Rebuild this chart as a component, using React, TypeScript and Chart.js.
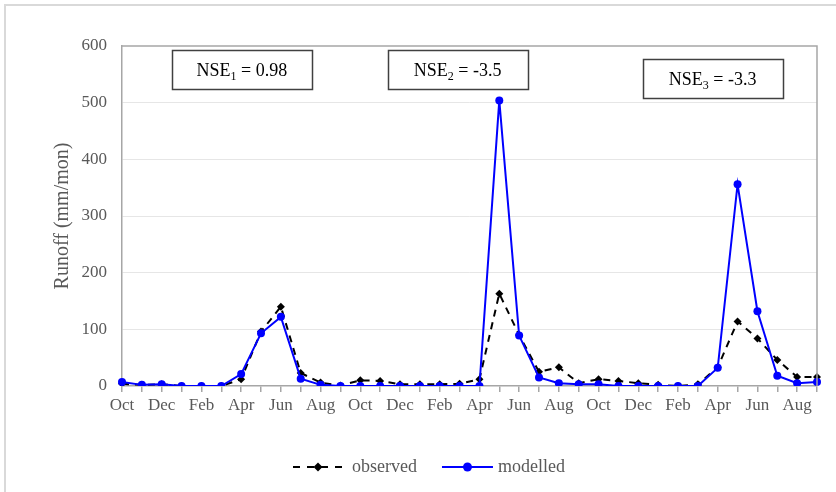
import React, { useEffect, useRef } from 'react';
import { Chart, registerables } from 'chart.js';

Chart.register(...registerables);

// ---- data ----
const categories = [
  'Oct', 'Nov', 'Dec', 'Jan', 'Feb', 'Mar', 'Apr', 'May', 'Jun', 'Jul', 'Aug', 'Sep',
  'Oct', 'Nov', 'Dec', 'Jan', 'Feb', 'Mar', 'Apr', 'May', 'Jun', 'Jul', 'Aug', 'Sep',
  'Oct', 'Nov', 'Dec', 'Jan', 'Feb', 'Mar', 'Apr', 'May', 'Jun', 'Jul', 'Aug', 'Sep',
];

const observed = [
  4, 2, 3, 0, 0, 0, 12, 96, 140, 23, 6, 1,
  10, 9, 3, 3, 3, 4, 12, 163, 90, 25, 33, 5,
  12, 9, 5, 2, 0, 3, 33, 114, 84, 46, 16, 16,
];

const modelled = [
  7, 2, 3, 0, 0, 0, 21, 93, 122, 13, 2, 0,
  0, 0, 0, 0, 0, 0, 0, 504, 89, 15, 5, 3,
  3, 0, 0, 0, 0, 0, 32, 356, 132, 18, 5, 7,
];

const yTicks = [0, 100, 200, 300, 400, 500, 600];

const nseSubscripts = ['1', '2', '3'];
const nseValues = ['0.98', '-3.5', '-3.3'];
// annotation anchors (category index, runoff value) for the NSE boxes
const nseAnchorIndex = [6.04, 16.9, 29.74];
const nseAnchorValue = [558, 558, 542];

const SERIF = "'Liberation Serif', 'Times New Roman', serif";
const GRAY_TEXT = '#595959';
const AXIS_GRAY = '#a6a6a6';

const framePlugin = {
  id: 'frame',
  beforeDraw(chart: any) {
    const ctx = chart.ctx;
    ctx.save();
    ctx.fillStyle = '#ffffff';
    ctx.fillRect(0, 0, chart.width, chart.height);
    ctx.strokeStyle = '#d9d9d9';
    ctx.lineWidth = 2;
    ctx.beginPath();
    ctx.moveTo(5, chart.height + 2);
    ctx.lineTo(5, 5);
    ctx.lineTo(chart.width + 2, 5);
    ctx.stroke();
    ctx.restore();
  },
  afterDraw(chart: any) {
    const { ctx, chartArea } = chart;
    ctx.save();
    ctx.strokeStyle = AXIS_GRAY;
    ctx.lineWidth = 1.5;
    ctx.beginPath();
    ctx.moveTo(chartArea.left, chartArea.top);
    ctx.lineTo(chartArea.right, chartArea.top);
    ctx.lineTo(chartArea.right, chartArea.bottom);
    ctx.stroke();
    ctx.restore();
  },
};

const nsePlugin = {
  id: 'nseBoxes',
  afterDraw(chart: any) {
    const ctx = chart.ctx;
    const xs = chart.scales.x;
    const ys = chart.scales.y;
    const w = 140;
    const h = 39;
    ctx.save();
    for (let i = 0; i < nseValues.length; i++) {
      const cx = xs.getPixelForValue(nseAnchorIndex[i]);
      const cy = ys.getPixelForValue(nseAnchorValue[i]);
      const x0 = Math.round(cx - w / 2);
      const y0 = Math.round(cy - h / 2);
      ctx.fillStyle = '#ffffff';
      ctx.fillRect(x0, y0, w, h);
      ctx.strokeStyle = '#404040';
      ctx.lineWidth = 1.5;
      ctx.strokeRect(x0 + 0.5, y0 + 0.5, w, h);

      const mainFont = `18px ${SERIF}`;
      const subFont = `12px ${SERIF}`;
      const p1 = 'NSE';
      const p2 = nseSubscripts[i];
      const p3 = ' = ' + nseValues[i];
      ctx.font = mainFont;
      const w1 = ctx.measureText(p1).width;
      const w3 = ctx.measureText(p3).width;
      ctx.font = subFont;
      const w2 = ctx.measureText(p2).width;
      const total = w1 + w2 + w3;
      let tx = cx - total / 2;
      const base = cy + 6;
      ctx.fillStyle = '#000000';
      ctx.textBaseline = 'alphabetic';
      ctx.textAlign = 'left';
      ctx.font = mainFont;
      ctx.fillText(p1, tx, base);
      tx += w1;
      ctx.font = subFont;
      ctx.fillText(p2, tx, base + 4);
      tx += w2;
      ctx.font = mainFont;
      ctx.fillText(p3, tx, base);
    }
    ctx.restore();
  },
};

const legendPlugin = {
  id: 'customLegend',
  afterDraw(chart: any) {
    const ctx = chart.ctx;
    const y = chart.height - 25;
    const font = `18px ${SERIF}`;
    ctx.save();
    ctx.font = font;
    ctx.textBaseline = 'middle';
    ctx.textAlign = 'left';
    const x0 = chart.width / 2 - 125;

    // observed
    ctx.strokeStyle = '#000000';
    ctx.lineWidth = 2;
    ctx.setLineDash([7, 7]);
    ctx.beginPath();
    ctx.moveTo(x0, y);
    ctx.lineTo(x0 + 50, y);
    ctx.stroke();
    ctx.setLineDash([]);
    ctx.fillStyle = '#000000';
    ctx.beginPath();
    const dx = x0 + 25;
    ctx.moveTo(dx, y - 4.5);
    ctx.lineTo(dx + 4.5, y);
    ctx.lineTo(dx, y + 4.5);
    ctx.lineTo(dx - 4.5, y);
    ctx.closePath();
    ctx.fill();
    ctx.fillStyle = GRAY_TEXT;
    const t1x = x0 + 59;
    ctx.fillText('observed', t1x, y);
    const t1w = ctx.measureText('observed').width;

    // modelled
    const x1 = t1x + t1w + 25;
    ctx.strokeStyle = '#0000ff';
    ctx.lineWidth = 2;
    ctx.beginPath();
    ctx.moveTo(x1, y);
    ctx.lineTo(x1 + 51, y);
    ctx.stroke();
    ctx.fillStyle = '#0000ff';
    ctx.beginPath();
    ctx.arc(x1 + 25.5, y, 4.5, 0, Math.PI * 2);
    ctx.fill();
    ctx.fillStyle = GRAY_TEXT;
    ctx.fillText('modelled', x1 + 56, y);
    ctx.restore();
  },
};

export default function App() {
  const canvasRef = useRef<HTMLCanvasElement | null>(null);

  useEffect(() => {
    const canvas = canvasRef.current;
    if (!canvas) return;
    const chart = new Chart(canvas, {
      type: 'line',
      data: {
        labels: categories,
        datasets: [
          {
            label: 'modelled',
            data: modelled,
            borderColor: '#0000ff',
            backgroundColor: '#0000ff',
            borderWidth: 2,
            pointStyle: 'circle',
            pointRadius: 4,
            pointBorderWidth: 0,
            tension: 0,
            order: 0,
          },
          {
            label: 'observed',
            data: observed,
            borderColor: '#000000',
            backgroundColor: '#000000',
            borderWidth: 2,
            borderDash: [7, 6],
            pointStyle: 'rectRot',
            pointRadius: 4,
            pointBorderWidth: 0,
            tension: 0,
            order: 1,
          },
        ],
      },
      options: {
        responsive: false,
        animation: false,
        devicePixelRatio: 1,
        layout: { padding: { left: 0, right: 19, top: 46, bottom: 66 } },
        plugins: {
          legend: { display: false },
          tooltip: { enabled: false },
          title: { display: false },
        },
        scales: {
          x: {
            type: 'category',
            offset: false,
            grid: {
              display: true,
              drawOnChartArea: false,
              drawTicks: true,
              tickLength: 6,
              color: AXIS_GRAY,
              lineWidth: 1.5,
            },
            border: { display: true, color: AXIS_GRAY, width: 1.5 },
            ticks: {
              autoSkip: false,
              maxRotation: 0,
              minRotation: 0,
              padding: 3,
              color: GRAY_TEXT,
              font: { family: SERIF, size: 17 },
              callback: (_v: any, i: number) => (i % 2 === 0 ? categories[i] : ''),
            },
            afterFit: (scale: any) => {
              scale.height = 40;
            },
          },
          y: {
            min: 0,
            max: 600,
            afterBuildTicks: (scale: any) => {
              scale.ticks = yTicks.map((v) => ({ value: v }));
            },
            grid: {
              drawTicks: false,
              color: (c: any) => (c.tick && (c.tick.value === 0 || c.tick.value === 600) ? 'rgba(0,0,0,0)' : '#e6e6e6'),
              lineWidth: 1,
            },
            border: { display: true, color: AXIS_GRAY, width: 1.5 },
            ticks: {
              padding: 15,
              color: GRAY_TEXT,
              font: { family: SERIF, size: 17 },
            },
            title: {
              display: true,
              text: 'Runoff (mm/mon)',
              color: GRAY_TEXT,
              font: { family: SERIF, size: 20 },
              padding: { top: 51, bottom: 0 },
            },
            afterFit: (scale: any) => {
              scale.width = 122;
            },
          },
        },
      },
      plugins: [framePlugin, nsePlugin, legendPlugin],
    });
    return () => chart.destroy();
  }, []);

  return (
    <div style={{ position: 'fixed', left: 0, top: 0, width: 836, height: 492 }}>
      <canvas ref={canvasRef} width={836} height={492} style={{ display: 'block' }} />
    </div>
  );
}
